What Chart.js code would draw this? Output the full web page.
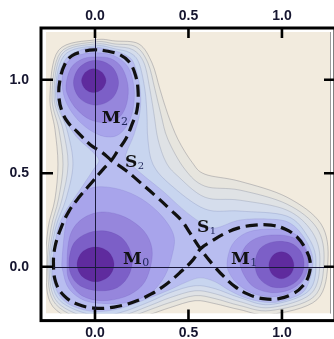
<!DOCTYPE html>
<html><head><meta charset="utf-8">
<script src="https://cdn.jsdelivr.net/npm/chart.js@4.4.0/dist/chart.umd.min.js"></script>
<style>html,body{margin:0;padding:0;background:#fff;}canvas{display:block;}</style>
</head><body>
<canvas id="c" width="334" height="339"></canvas>
<script>
// ---------- data ----------
const tickValues = [0, 0.5, 1.0];
const xLimits = [-0.262, 1.257];
const yLimits = [-0.250, 1.255];

const outer1 = [[0,1.213],[0.107,1.207],[0.235,1.191],[0.305,1.090],[0.348,0.947],[0.390,0.814],[0.444,0.681],[0.519,0.559],[0.588,0.495],[0.775,0.457],[1.027,0.372],[1.209,0.229],[1.246,0.032],[1.187,-0.176],[0.936,-0.255],[0.775,-0.229],[0.642,-0.197],[0.535,-0.181],[0.401,-0.218],[0.294,-0.255],[0.134,-0.309],[0,-0.330],[-0.225,-0.213],[-0.262,0],[-0.251,0.207],[-0.214,0.362],[-0.198,0.548],[-0.214,0.734],[-0.241,0.910],[-0.195,1.157]];
const outer2 = [[0,1.202],[0.107,1.191],[0.219,1.176],[0.283,1.090],[0.321,0.947],[0.353,0.814],[0.390,0.681],[0.481,0.521],[0.588,0.431],[0.775,0.410],[1.027,0.335],[1.187,0.207],[1.225,0.032],[1.171,-0.160],[0.936,-0.234],[0.775,-0.207],[0.642,-0.170],[0.535,-0.154],[0.401,-0.191],[0.294,-0.229],[0.134,-0.287],[0,-0.303],[-0.211,-0.199],[-0.254,0],[-0.235,0.207],[-0.195,0.362],[-0.171,0.548],[-0.193,0.734],[-0.230,0.910],[-0.184,1.146]];
const outer3 = [[0,1.191],[0.107,1.178],[0.203,1.160],[0.262,1.090],[0.294,0.947],[0.316,0.814],[0.337,0.681],[0.380,0.559],[0.444,0.484],[0.588,0.372],[0.775,0.356],[1.027,0.303],[1.163,0.184],[1.203,0.032],[1.155,-0.144],[0.936,-0.218],[0.775,-0.186],[0.642,-0.144],[0.535,-0.128],[0.401,-0.165],[0.294,-0.207],[0.134,-0.266],[0,-0.282],[-0.201,-0.189],[-0.246,0],[-0.222,0.207],[-0.176,0.362],[-0.144,0.548],[-0.171,0.734],[-0.219,0.910],[-0.176,1.138]];
const outer4 = [[0,1.181],[0.107,1.165],[0.187,1.144],[0.235,1.090],[0.267,0.947],[0.278,0.814],[0.283,0.681],[0.310,0.548],[0.401,0.441],[0.588,0.309],[0.775,0.298],[1.027,0.271],[1.139,0.160],[1.182,0.032],[1.142,-0.130],[0.936,-0.202],[0.775,-0.165],[0.642,-0.117],[0.535,-0.101],[0.401,-0.138],[0.294,-0.186],[0.134,-0.245],[0,-0.261],[-0.190,-0.178],[-0.238,0],[-0.211,0.207],[-0.155,0.362],[-0.118,0.548],[-0.150,0.734],[-0.211,0.910],[-0.166,1.128]];
const channel = [[0,1.173],[0.107,1.154],[0.171,1.128],[0.209,1.085],[0.241,0.957],[0.241,0.830],[0.209,0.707],[0.171,0.617],[0.166,0.574],[0.209,0.532],[0.278,0.473],[0.364,0.404],[0.439,0.335],[0.508,0.277],[0.572,0.234],[0.642,0.207],[0.775,0.250],[0.936,0.255],[1.043,0.234],[1.123,0.149],[1.166,0.032],[1.128,-0.117],[1.043,-0.170],[0.936,-0.191],[0.818,-0.170],[0.722,-0.128],[0.642,-0.080],[0.561,-0.059],[0.481,-0.085],[0.401,-0.122],[0.294,-0.165],[0.134,-0.223],[0,-0.239],[-0.112,-0.213],[-0.179,-0.168],[-0.219,-0.090],[-0.230,0],[-0.214,0.117],[-0.198,0.207],[-0.160,0.293],[-0.118,0.356],[-0.064,0.436],[-0.011,0.516],[0.021,0.569],[-0.021,0.622],[-0.086,0.681],[-0.128,0.734],[-0.171,0.798],[-0.203,0.910],[-0.198,1.011],[-0.155,1.112],[-0.091,1.154]];

const wellF_M0 = [[-0.176,0.043],[-0.150,0.255],[-0.086,0.378],[0,0.426],[0.128,0.415],[0.251,0.362],[0.358,0.271],[0.422,0.165],[0.412,0.059],[0.374,-0.048],[0.305,-0.133],[0.198,-0.186],[0.075,-0.197],[-0.053,-0.181],[-0.139,-0.117],[-0.171,-0.027]];
const wellF_M1 = [[0.706,0.016],[0.733,0.117],[0.807,0.181],[0.920,0.202],[1.032,0.191],[1.107,0.144],[1.139,0.064],[1.139,-0.016],[1.107,-0.085],[1.043,-0.138],[0.947,-0.160],[0.850,-0.144],[0.775,-0.101],[0.727,-0.048]];
const wellF_M2 = [[-0.176,1.000],[-0.150,1.090],[-0.080,1.133],[0.011,1.144],[0.102,1.128],[0.176,1.069],[0.209,0.957],[0.203,0.840],[0.171,0.755],[0.118,0.702],[0.048,0.697],[-0.032,0.734],[-0.107,0.803],[-0.160,0.894]];

const wellG_M0 = [[-0.150,0.005],[-0.134,0.165],[-0.070,0.255],[0.037,0.293],[0.160,0.266],[0.262,0.191],[0.305,0.096],[0.294,-0.011],[0.251,-0.101],[0.160,-0.160],[0.037,-0.181],[-0.070,-0.154],[-0.134,-0.080]];
const wellG_M1 = [[0.775,0.027],[0.807,0.112],[0.882,0.160],[0.989,0.170],[1.075,0.149],[1.128,0.090],[1.139,0.005],[1.112,-0.069],[1.043,-0.122],[0.947,-0.138],[0.856,-0.112],[0.802,-0.053]];
const wellG_M2 = [[-0.155,0.968],[-0.128,1.064],[-0.064,1.112],[0.011,1.122],[0.086,1.112],[0.144,1.064],[0.176,0.973],[0.171,0.878],[0.134,0.803],[0.059,0.771],[-0.027,0.787],[-0.096,0.840],[-0.139,0.904]];

const wellH_M0 = [[-0.139,0.032],[-0.112,0.128],[-0.037,0.181],[0.059,0.191],[0.150,0.149],[0.198,0.053],[0.182,-0.043],[0.118,-0.112],[0.016,-0.128],[-0.080,-0.101],[-0.128,-0.043]];
const wellH_M1 = [[0.856,0.016],[0.882,0.096],[0.952,0.133],[1.043,0.128],[1.102,0.080],[1.118,0.005],[1.091,-0.064],[1.027,-0.106],[0.941,-0.106],[0.877,-0.059]];
const wellH_M2 = [[-0.115,0.984],[-0.080,1.069],[0.005,1.104],[0.091,1.069],[0.126,0.984],[0.091,0.899],[0.005,0.864],[-0.080,0.899]];

const core_M0 = [[-0.096,0.013],[-0.067,0.080],[0.003,0.106],[0.072,0.080],[0.102,0.013],[0.072,-0.053],[0.003,-0.080],[-0.067,-0.053]];
const core_M1 = [[0.930,0.008],[0.950,0.059],[0.997,0.080],[1.044,0.059],[1.064,0.008],[1.044,-0.043],[0.997,-0.064],[0.950,-0.043]];
const core_M2 = [[-0.072,0.995],[-0.051,1.040],[-0.008,1.059],[0.037,1.040],[0.059,0.995],[0.037,0.949],[-0.008,0.931],[-0.051,0.949]];

// dashed contour through the two saddle points (one continuous curve)
const saddleContour = [[0.088,0.569],[0.037,0.612],[-0.027,0.654],[-0.096,0.723],[-0.144,0.771],[-0.176,0.830],[-0.193,0.910],[-0.187,1.000],[-0.160,1.085],[-0.123,1.128],[-0.070,1.149],[-0.005,1.160],[0.070,1.152],[0.134,1.133],[0.182,1.096],[0.214,1.032],[0.230,0.947],[0.225,0.840],[0.198,0.761],[0.166,0.686],[0.123,0.622],[0.088,0.569],[0.043,0.521],[-0.016,0.452],[-0.080,0.378],[-0.139,0.298],[-0.182,0.207],[-0.214,0.106],[-0.222,0.011],[-0.209,-0.085],[-0.166,-0.154],[-0.096,-0.199],[0,-0.221],[0.102,-0.215],[0.203,-0.189],[0.299,-0.146],[0.385,-0.090],[0.465,-0.021],[0.524,0.037],[0.564,0.096],[0.626,0.138],[0.690,0.176],[0.765,0.207],[0.856,0.223],[0.941,0.223],[1.016,0.202],[1.080,0.160],[1.123,0.101],[1.150,0.032],[1.144,-0.043],[1.112,-0.101],[1.059,-0.144],[0.984,-0.170],[0.898,-0.170],[0.818,-0.146],[0.749,-0.106],[0.690,-0.053],[0.631,0.011],[0.564,0.096],[0.508,0.181],[0.465,0.245],[0.406,0.303],[0.332,0.372],[0.246,0.447],[0.171,0.511],[0.088,0.569]];

const labelText = ['M','M','M','S','S'];
const labelSub = ['0','1','2','1','2'];
const labelX = [0.150, 0.727, 0.036, 0.545, 0.160];
const labelY = [0.016, 0.016, 0.770, 0.185, 0.536];

// ---------- styles ----------
const contourLevels = [[outer1],[outer2],[outer3],[outer4],[channel],
  [wellF_M0,wellF_M1,wellF_M2],[wellG_M0,wellG_M1,wellG_M2],[wellH_M0,wellH_M1,wellH_M2],[core_M0,core_M1,core_M2]];
const levelFill = ['#e7e5de','#dfe2e5','#d5ddec','#c8d5ef','#b8bdf0','#a8a4eb','#9686dc','#7c5fc7','#5f2b9e'];
const levelLine = ['rgba(130,132,140,0.55)','rgba(130,135,150,0.45)','rgba(130,140,165,0.4)','rgba(120,130,180,0.35)','rgba(120,120,190,0.3)','rgba(110,100,190,0.3)','rgba(100,80,180,0.3)','rgba(90,60,160,0.3)','rgba(80,40,140,0.3)'];
const bgColor = '#f2ebde';
const ink = '#15152f';

const datasets = [];
contourLevels.forEach((pieces, li) => pieces.forEach(piece => datasets.push({
  data: piece.map(([x, y]) => ({x, y})),
  showLine: false, pointRadius: 0, pointHoverRadius: 0,
  contourFill: levelFill[li], contourLine: levelLine[li], contourWidth: li < 4 ? 0.8 : 0.6
})));
datasets.push({
  data: saddleContour.map(([x, y]) => ({x, y})),
  showLine: true, borderColor: '#111', borderWidth: 3.2, borderDash: [12, 6],
  borderCapStyle: 'butt', tension: 0.4, pointRadius: 0, pointHoverRadius: 0, fill: false
});

function closedSpline(ctx, pts) {
  const n = pts.length;
  ctx.moveTo(pts[0].x, pts[0].y);
  for (let i = 0; i < n; i++) {
    const p0 = pts[(i - 1 + n) % n], p1 = pts[i], p2 = pts[(i + 1) % n], p3 = pts[(i + 2) % n];
    ctx.bezierCurveTo(p1.x + (p2.x - p0.x) / 6, p1.y + (p2.y - p0.y) / 6,
                      p2.x - (p3.x - p1.x) / 6, p2.y - (p3.y - p1.y) / 6, p2.x, p2.y);
  }
}

const plotPlugin = {
  id: 'plotPlugin',
  beforeDatasetsDraw(chart) {
    const {ctx, chartArea: a} = chart;
    ctx.save();
    ctx.beginPath(); ctx.rect(a.left, a.top, a.right - a.left, a.bottom - a.top); ctx.clip();
    ctx.fillStyle = bgColor; ctx.fillRect(a.left, a.top, a.right - a.left, a.bottom - a.top);
    chart.data.datasets.forEach((ds, i) => {
      if (!ds.contourFill) return;
      const pts = chart.getDatasetMeta(i).data.map(p => ({x: p.x, y: p.y}));
      ctx.beginPath(); closedSpline(ctx, pts); ctx.closePath();
      ctx.fillStyle = ds.contourFill; ctx.fill();
      ctx.lineWidth = ds.contourWidth; ctx.strokeStyle = ds.contourLine; ctx.stroke();
    });
    ctx.restore();
  },
  afterDatasetsDraw(chart) {
    const {ctx, chartArea: a, scales} = chart;
    const sx = scales.x, sy = scales.y;
    ctx.save();
    ctx.strokeStyle = '#1a1a3c'; ctx.lineWidth = 1;
    const x0 = Math.round(sx.getPixelForValue(0)) + 0.5, y0 = Math.round(sy.getPixelForValue(0)) + 0.5;
    ctx.beginPath(); ctx.moveTo(x0, a.top - 4); ctx.lineTo(x0, a.bottom + 7); ctx.stroke();
    ctx.beginPath(); ctx.moveTo(a.left - 5, y0); ctx.lineTo(a.right + 5, y0); ctx.stroke();
    ctx.textAlign = 'left'; ctx.textBaseline = 'alphabetic';
    labelText.forEach((t, i) => {
      const px = sx.getPixelForValue(labelX[i]), py = sy.getPixelForValue(labelY[i]);
      ctx.font = 'bold 17px "DejaVu Serif"'; ctx.fillStyle = '#111';
      ctx.fillText(t, px, py);
      const w = ctx.measureText(t).width;
      ctx.font = (t === 'M' ? '11px' : '10px') + ' "DejaVu Serif"'; ctx.fillStyle = '#1d2458';
      ctx.fillText(labelSub[i], px + w + 0.5, py + 2);
    });
    ctx.restore();
  },
  afterDraw(chart) {
    const {ctx, chartArea: a, scales} = chart;
    ctx.save();
    ctx.strokeStyle = 'rgba(90,90,90,0.6)'; ctx.lineWidth = 1;
    ctx.beginPath(); ctx.moveTo(a.right + 0.5, a.top); ctx.lineTo(a.right + 0.5, a.bottom); ctx.stroke();
    ctx.strokeStyle = '#000'; ctx.lineWidth = 3;
    const L = a.left - 5, T = a.top - 4, R = a.right + 5, B = a.bottom + 7;
    ctx.strokeRect(L, T, R - L, B - T);
    ctx.lineWidth = 2.6;
    tickValues.forEach(v => {
      const px = scales.x.getPixelForValue(v), py = scales.y.getPixelForValue(v);
      ctx.beginPath();
      ctx.moveTo(px, T); ctx.lineTo(px, T + 10);
      ctx.moveTo(px, B); ctx.lineTo(px, B - 11);
      ctx.moveTo(L, py); ctx.lineTo(L + 12, py);
      ctx.moveTo(R, py); ctx.lineTo(R - 11, py);
      ctx.stroke();
    });
    ctx.restore();
  }
};

const tickFont = {family: '"Liberation Sans", Arial, sans-serif', size: 14, weight: 'bold'};
const setTicks = s => { s.ticks = tickValues.map(v => ({value: v})); };
const fmt = v => Number(v).toFixed(1);

new Chart(document.getElementById('c'), {
  type: 'scatter',
  data: {datasets},
  options: {
    responsive: false, animation: false, events: [],
    layout: {padding: {left: 0, right: 4, top: 0, bottom: 0}},
    plugins: {legend: {display: false}, tooltip: {enabled: false}},
    scales: {
      x: {type: 'linear', position: 'bottom', min: xLimits[0], max: xLimits[1],
          afterBuildTicks: setTicks, afterFit: s => { s.height = 24; },
          ticks: {callback: fmt, font: tickFont, color: ink, padding: 11, maxRotation: 0},
          grid: {display: false, drawTicks: false}, border: {display: false}},
      xTop: {type: 'linear', position: 'top', min: xLimits[0], max: xLimits[1],
          afterBuildTicks: setTicks, afterFit: s => { s.height = 32; },
          ticks: {callback: fmt, font: tickFont, color: ink, padding: 7, maxRotation: 0},
          grid: {display: false, drawTicks: false}, border: {display: false}},
      y: {type: 'linear', position: 'left', min: yLimits[0], max: yLimits[1],
          afterBuildTicks: setTicks, afterFit: s => { s.width = 46; },
          ticks: {callback: fmt, font: tickFont, color: ink, padding: 17},
          grid: {display: false, drawTicks: false}, border: {display: false}}
    }
  },
  plugins: [plotPlugin]
});
</script>
</body></html>
